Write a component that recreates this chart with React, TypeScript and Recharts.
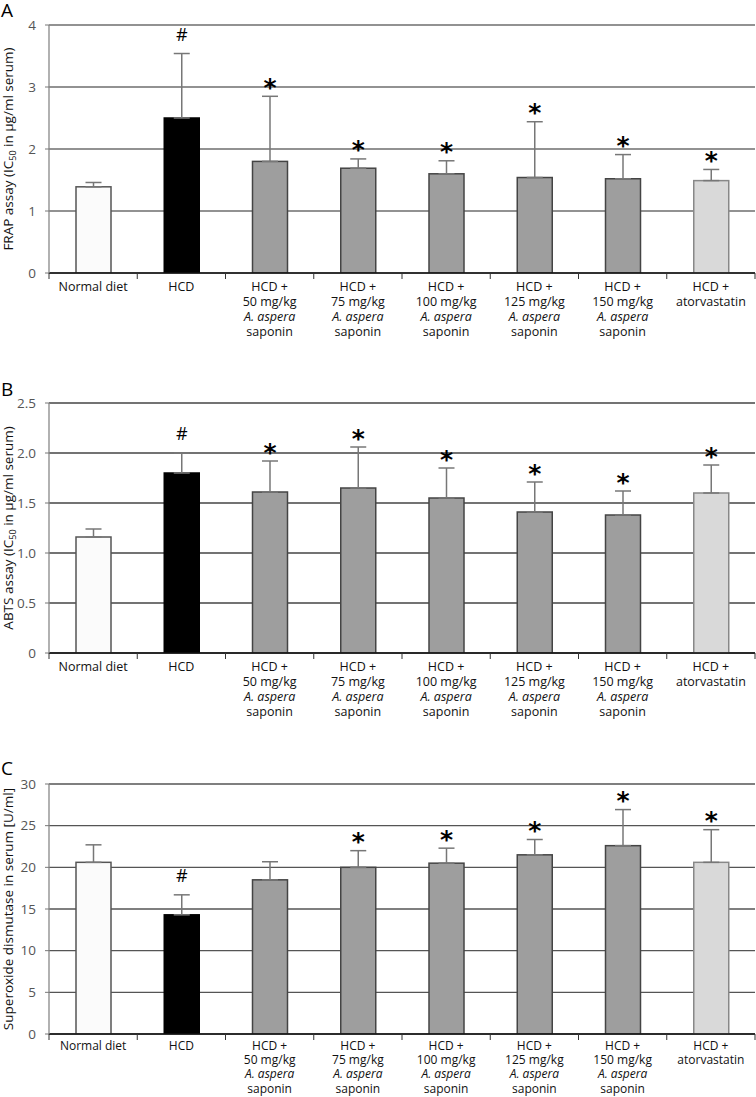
import React from "react";
import { BarChart, Bar, XAxis, YAxis, CartesianGrid, ErrorBar } from "recharts";

const categories = [
  "Normal diet",
  "HCD",
  "HCD + 50 mg/kg A. aspera saponin",
  "HCD + 75 mg/kg A. aspera saponin",
  "HCD + 100 mg/kg A. aspera saponin",
  "HCD + 125 mg/kg A. aspera saponin",
  "HCD + 150 mg/kg A. aspera saponin",
  "HCD + atorvastatin",
];
const tickLines = [
  ["Normal diet"],
  ["HCD"],
  ["HCD +", "50 mg/kg", "A. aspera", "saponin"],
  ["HCD +", "75 mg/kg", "A. aspera", "saponin"],
  ["HCD +", "100 mg/kg", "A. aspera", "saponin"],
  ["HCD +", "125 mg/kg", "A. aspera", "saponin"],
  ["HCD +", "150 mg/kg", "A. aspera", "saponin"],
  ["HCD +", "atorvastatin"],
];

const frapMeans = [1.39, 2.5, 1.8, 1.69, 1.6, 1.54, 1.52, 1.49];
const frapSD = [0.07, 1.04, 1.05, 0.15, 0.21, 0.9, 0.39, 0.18];
const frapMarks = ["", "#", "*", "*", "*", "*", "*", "*"];
const frapTicks = [0, 1, 2, 3, 4];

const abtsMeans = [1.16, 1.8, 1.61, 1.65, 1.55, 1.41, 1.38, 1.6];
const abtsSD = [0.08, 0.2, 0.31, 0.41, 0.3, 0.3, 0.24, 0.28];
const abtsMarks = ["", "#", "*", "*", "*", "*", "*", "*"];
const abtsTicks = [0, 0.5, 1, 1.5, 2, 2.5];

const sodMeans = [20.6, 14.3, 18.5, 20.0, 20.5, 21.5, 22.6, 20.6];
const sodSD = [2.1, 2.4, 2.17, 2.0, 1.8, 1.84, 4.33, 3.92];
const sodMarks = ["", "#", "", "*", "*", "*", "*", "*"];
const sodTicks = [0, 5, 10, 15, 20, 25, 30];

// styles
const barFills = ["#fbfbfb", "#000000", "#9e9e9e", "#9e9e9e", "#9e9e9e", "#9e9e9e", "#9e9e9e", "#d9d9d9"];
const barStrokes = ["#555555", "#000000", "#444444", "#444444", "#444444", "#444444", "#444444", "#888888"];
const FONT = "'Open Sans', sans-serif";
const W = 756;
const PLOT_LEFT = 49;
const PLOT_RIGHT = 755;
const BW = (PLOT_RIGHT - PLOT_LEFT) / 8;

function build(means: number[], sds: number[], marks: string[]) {
  return categories.map((c, i) => ({
    name: c,
    mean: means[i],
    sd: sds[i],
    err: [0, sds[i]],
    mark: marks[i],
  }));
}

const XTick = (props: any) => {
  const { x, y, index, first = 17.5, gap = 15, fs = 12.5 } = props;
  const lines = tickLines[index] || [];
  const left = x - BW / 2;
  const right = x + BW / 2;
  return (
    <g>
      <line x1={left} y1={y} x2={left} y2={y + 6} stroke="#333" strokeWidth={1} />
      {index === 7 && <line x1={right} y1={y} x2={right} y2={y + 6} stroke="#333" strokeWidth={1} />}
      {lines.map((l: string, i: number) => (
        <text
          key={i}
          x={x}
          y={y + first + i * gap}
          textAnchor="middle"
          fontFamily={FONT}
          fontSize={fs}
          fontStyle={l === "A. aspera" ? "italic" : "normal"}
          fill="#111"
        >
          {l}
        </text>
      ))}
    </g>
  );
};

const BarShape = (props: any) => {
  const { x, y, width, height, index, payload } = props;
  const ppu = payload.mean ? height / payload.mean : 0;
  const errTop = y - payload.sd * ppu;
  const mark = payload.mark;
  return (
    <g>
      <rect x={x} y={y} width={width} height={height} fill={barFills[index]} stroke={barStrokes[index]} strokeWidth={1.5} />
      {mark === "*" && (
        <text x={x + width / 2} y={errTop - 0.5} textAnchor="middle" fontFamily="'DejaVu Sans', sans-serif" fontWeight="bold" fontSize={25} fill="#000">
          *
        </text>
      )}
      {mark === "#" && (
        <text x={x + width / 2} y={errTop - 13} textAnchor="middle" fontFamily={FONT} fontSize={18} fill="#000">
          #
        </text>
      )}
    </g>
  );
};

type PanelProps = {
  top: number;
  height: number;
  marginTop: number;
  axisH: number;
  marginBottom: number;
  data: any[];
  ticks: number[];
  fmt: (v: number) => string;
  gridColor: string;
  first: number;
  gap: number;
  fs: number;
};

const Panel = ({ top, height, marginTop, axisH, marginBottom, data, ticks, fmt, gridColor, first, gap, fs }: PanelProps) => {
  const max = ticks[ticks.length - 1];
  return (
    <div style={{ position: "absolute", left: 0, top, width: W, height }}>
      <BarChart
        width={W}
        height={height}
        data={data}
        margin={{ top: marginTop, right: W - PLOT_RIGHT, left: PLOT_LEFT - 40, bottom: marginBottom }}
        barSize={35}
      >
        <CartesianGrid vertical={false} stroke={gridColor} strokeWidth={1.3} />
        <XAxis
          dataKey="name"
          interval={0}
          height={axisH}
          tickSize={0}
          tickMargin={0}
          tickLine={false}
          axisLine={{ stroke: "#111", strokeWidth: 1.3 }}
          tick={<XTick first={first} gap={gap} fs={fs} />}
        />
        <YAxis
          width={40}
          domain={[0, max]}
          ticks={ticks}
          tickFormatter={fmt}
          tickSize={4}
          tickMargin={9}
          axisLine={{ stroke: "#888", strokeWidth: 1.3 }}
          tickLine={{ stroke: "#777" }}
          tick={{ fill: "#555", fontSize: 13.5, fontFamily: FONT }}
          allowDataOverflow
        />
        <YAxis
          yAxisId="r"
          orientation="right"
          width={0}
          domain={[0, max]}
          tick={false}
          tickLine={false}
          axisLine={{ stroke: "#000", strokeWidth: 1.3 }}
        />
        <Bar dataKey="mean" isAnimationActive={false} shape={<BarShape />}>
          <ErrorBar dataKey="err" width={8} stroke="#777" strokeWidth={1.5} direction="y" />
        </Bar>
      </BarChart>
    </div>
  );
};

export default function App() {
  const frap = build(frapMeans, frapSD, frapMarks);
  const abts = build(abtsMeans, abtsSD, abtsMarks);
  const sod = build(sodMeans, sodSD, sodMarks);
  return (
    <div style={{ position: "absolute", left: 0, top: 0, width: W, height: 1097, background: "#fff", fontFamily: FONT }}>
      <Panel top={0} height={370} marginTop={25} axisH={90} marginBottom={7} data={frap} ticks={frapTicks} fmt={(v) => String(v)} gridColor="#6e6e6e" first={17.5} gap={15} fs={12.5} />
      <Panel top={375} height={375} marginTop={28} axisH={90} marginBottom={7} data={abts} ticks={abtsTicks} fmt={(v) => (v === 0 ? "0" : v.toFixed(1))} gridColor="#444" first={17.5} gap={15} fs={12.5} />
      <Panel top={755} height={342} marginTop={29} axisH={60} marginBottom={3} data={sod} ticks={sodTicks} fmt={(v) => String(v)} gridColor="#555" first={15.5} gap={14.4} fs={12} />
      <svg width={W} height={1097} style={{ position: "absolute", left: 0, top: 0, pointerEvents: "none" }}>
        <g fontFamily={FONT} fontSize={13.5} fill="#111">
          <text transform="translate(13,149) rotate(-90)" textAnchor="middle">
            FRAP assay (IC<tspan fontSize={9} dy={3}>50</tspan>
            <tspan dy={-3}> in µg/ml serum)</tspan>
          </text>
          <text transform="translate(13,528) rotate(-90)" textAnchor="middle">
            ABTS assay (IC<tspan fontSize={9} dy={3}>50</tspan>
            <tspan dy={-3}> in µg/ml serum)</tspan>
          </text>
          <text transform="translate(13,909) rotate(-90)" textAnchor="middle">
            Superoxide dismutase in serum [U/ml]
          </text>
        </g>
        <g fontFamily={FONT} fontSize={19} fontWeight={500} fill="#000">
          <text x={1} y={17}>A</text>
          <text x={1} y={396}>B</text>
          <text x={1} y={775}>C</text>
        </g>
      </svg>
    </div>
  );
}
